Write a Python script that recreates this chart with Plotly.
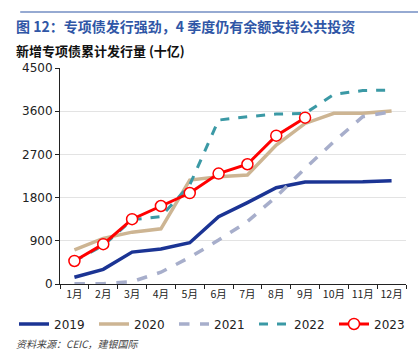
import plotly.graph_objects as go

months = ["1月", "2月", "3月", "4月", "5月", "6月", "7月", "8月", "9月", "10月", "11月", "12月"]
y2019 = [140, 305, 665, 730, 860, 1400, 1695, 2005, 2125, 2125, 2130, 2150]
y2020 = [710, 950, 1080, 1150, 2165, 2235, 2270, 2895, 3345, 3555, 3555, 3605]
y2021 = [5, 5, 50, 245, 555, 915, 1300, 1820, 2410, 2965, 3485, 3590]
y2022 = [480, 800, 1340, 1405, 2065, 3415, 3485, 3540, 3555, 3950, 4030, 4040]
y2023 = [480, 830, 1350, 1625, 1895, 2300, 2495, 3090, 3465]
yticks = [0, 900, 1800, 2700, 3600, 4500]

NUM_FONT = "DejaVu Sans"
CJK_FONT = "Noto Sans CJK SC"

fig = go.Figure()
fig.add_trace(go.Scatter(x=months, y=y2019, name="2019", mode="lines",
                         line=dict(color="#1B3494", width=3.5)))
fig.add_trace(go.Scatter(x=months, y=y2020, name="2020", mode="lines",
                         line=dict(color="#CDB593", width=3.5)))
fig.add_trace(go.Scatter(x=months, y=y2021, name="2021", mode="lines",
                         line=dict(color="#A7AECB", width=3.5, dash="dash")))
fig.add_trace(go.Scatter(x=months, y=y2022, name="2022", mode="lines",
                         line=dict(color="#3B99A5", width=3, dash="dash")))
fig.add_trace(go.Scatter(x=months[:len(y2023)], y=y2023, name="2023", mode="lines+markers",
                         line=dict(color="#FF0000", width=3),
                         marker=dict(symbol="circle", size=11, color="white",
                                     line=dict(color="#FF0000", width=1.5))))

fig.update_layout(
    width=418, height=351,
    margin=dict(l=60, r=12, t=68, b=67),
    paper_bgcolor="white", plot_bgcolor="white",
    font=dict(family=NUM_FONT, size=11, color="#222222"),
    showlegend=True,
    legend=dict(orientation="h", x=(14 - 60) / 346, xanchor="left", y=-0.185, yanchor="middle",
                font=dict(family=NUM_FONT, size=12, color="#222222"),
                itemwidth=30, entrywidth=35, entrywidthmode="pixels",
                tracegroupgap=0, itemclick=False),
    xaxis=dict(type="category", showline=True, linecolor="#222222", linewidth=1,
               ticks="outside", ticklen=4, tickcolor="#222222", tickson="boundaries",
               showgrid=False, tickangle=0,
               tickfont=dict(family=CJK_FONT, size=10.5, color="#222222"),
               range=[-0.5, 11.5], fixedrange=True),
    yaxis=dict(range=[0, 4500], tickvals=yticks, ticktext=[str(v) for v in yticks],
               showline=True, linecolor="#222222", linewidth=1,
               ticks="outside", ticklen=4, tickcolor="#222222",
               showgrid=True, gridcolor="#E3E3E3", gridwidth=1, zeroline=False,
               tickfont=dict(family=NUM_FONT, size=12, color="#222222")),
)

fig.add_shape(type="line", xref="paper", yref="paper",
              x0=-0.115, x1=1.035, y0=(351 - 67 - 12) / 216, y1=(351 - 67 - 12) / 216,
              line=dict(color="#2F56A6", width=1.2))
fig.add_annotation(text="<b>图 12：专项债发行强劲，4 季度仍有余额支持公共投资</b>",
                   xref="paper", yref="paper", x=-0.133, y=(351 - 67 - 26) / 216,
                   xanchor="left", yanchor="middle", showarrow=False,
                   font=dict(family=CJK_FONT, size=14, color="#2F56A6"))
fig.add_annotation(text="<b>新增专项债累计发行量 (十亿)</b>",
                   xref="paper", yref="paper", x=-0.133, y=(351 - 67 - 50) / 216,
                   xanchor="left", yanchor="middle", showarrow=False,
                   font=dict(family=CJK_FONT, size=13, color="#111111"))
fig.add_annotation(text="<i>资料来源：CEIC，建银国际</i>",
                   xref="paper", yref="paper", x=-0.133, y=(351 - 67 - 343) / 216,
                   xanchor="left", yanchor="middle", showarrow=False,
                   font=dict(family=CJK_FONT, size=10, color="#444444"))

fig.write_html("out.html")
